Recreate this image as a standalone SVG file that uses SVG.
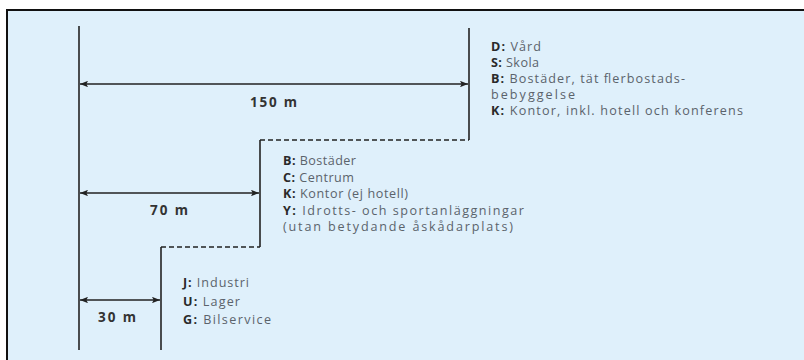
<svg xmlns="http://www.w3.org/2000/svg" width="804" height="360" viewBox="0 0 804 360">
<defs>
<marker id="ah" viewBox="0 0 10 8" refX="10" refY="4" markerWidth="8" markerHeight="6.4" markerUnits="userSpaceOnUse" orient="auto-start-reverse">
<path d="M0,0 L10,4 L0,8 L2,4 Z" fill="#222"/>
</marker>
<style>
.ln{stroke:#222;stroke-width:1.6;fill:none}
.dash{stroke:#222;stroke-width:1.6;fill:none;stroke-dasharray:5,3}
.dim{stroke:#222;stroke-width:1.3;fill:none}
.t{font-family:"Open Sans","Liberation Sans",sans-serif;font-size:12.6px;fill:#5b636b}
.k{font-weight:700;fill:#2a2a2a}
.m{font-family:"Open Sans","Liberation Sans",sans-serif;font-size:13.5px;font-weight:700;fill:#333}
</style>
</defs>
<rect x="0" y="0" width="804" height="360" fill="#ffffff"/>
<rect x="7" y="10" width="797" height="350" fill="#dff0fb"/>
<line x1="6" y1="10" x2="804" y2="10" stroke="#111" stroke-width="2"/>
<line x1="7" y1="9" x2="7" y2="360" stroke="#111" stroke-width="2"/>

<g id="zone-150">
<line class="ln" x1="469" y1="28" x2="469" y2="140"/>
<text class="t" x="491" y="51" textLength="50"><tspan class="k">D:</tspan> Vård</text>
<text class="t" x="491" y="67" textLength="48"><tspan class="k">S:</tspan> Skola</text>
<text class="t" x="491" y="83" textLength="194"><tspan class="k">B:</tspan> Bostäder, tät flerbostads-</text>
<text class="t" x="491" y="99" textLength="84">bebyggelse</text>
<text class="t" x="491" y="115" textLength="252"><tspan class="k">K:</tspan> Kontor, inkl. hotell och konferens</text>
</g>

<g id="zone-70">
<line class="dash" x1="260" y1="140" x2="469" y2="140"/>
<line class="ln" x1="260" y1="140" x2="260" y2="247"/>
<text class="t" x="283" y="165" textLength="73"><tspan class="k">B:</tspan> Bostäder</text>
<text class="t" x="283" y="182" textLength="71"><tspan class="k">C:</tspan> Centrum</text>
<text class="t" x="283" y="198" textLength="125"><tspan class="k">K:</tspan> Kontor (ej hotell)</text>
<text class="t" x="283" y="215" textLength="241"><tspan class="k">Y:</tspan> Idrotts- och sportanläggningar</text>
<text class="t" x="283" y="231" textLength="230">(utan betydande åskådarplats)</text>
</g>

<g id="zone-30">
<line class="dash" x1="161" y1="247" x2="260" y2="247"/>
<line class="ln" x1="161" y1="247" x2="161" y2="350"/>
<text class="t" x="183" y="287" textLength="66"><tspan class="k">J:</tspan> Industri</text>
<text class="t" x="183" y="305.5" textLength="57"><tspan class="k">U:</tspan> Lager</text>
<text class="t" x="183" y="324" textLength="88"><tspan class="k">G:</tspan> Bilservice</text>
</g>

<g id="origin">
<line class="ln" x1="79" y1="26" x2="79" y2="350"/>
</g>

<g id="connectors">
<line class="dim" x1="80" y1="84" x2="468" y2="84" marker-start="url(#ah)" marker-end="url(#ah)"/>
<text class="m" x="250" y="107" textLength="47">150 m</text>
<line class="dim" x1="80" y1="193" x2="259" y2="193" marker-start="url(#ah)" marker-end="url(#ah)"/>
<text class="m" x="150" y="215" textLength="38">70 m</text>
<line class="dim" x1="80" y1="300" x2="160" y2="300" marker-start="url(#ah)" marker-end="url(#ah)"/>
<text class="m" x="98" y="322" textLength="38">30 m</text>
</g>
</svg>
